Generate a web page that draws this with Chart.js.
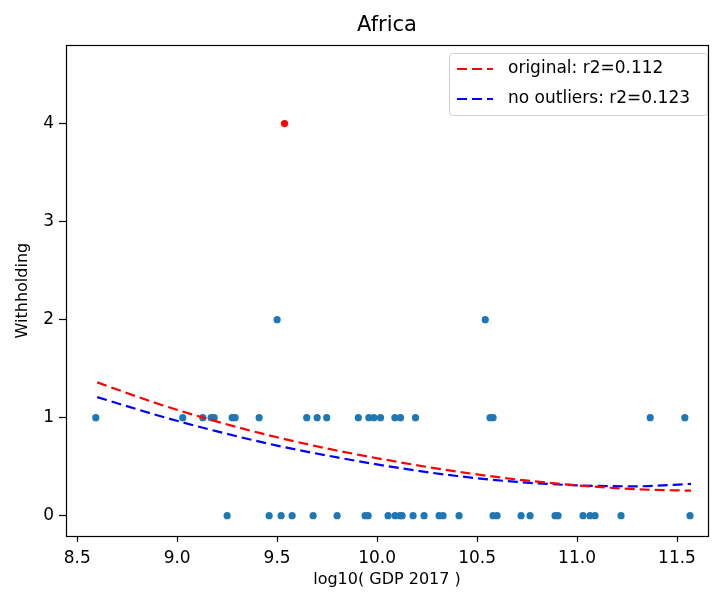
<!DOCTYPE html>
<html>
<head>
<meta charset="utf-8">
<script src="https://cdn.jsdelivr.net/npm/chart.js@4.4.0/dist/chart.umd.min.js"></script>
<style>
  html, body { margin: 0; padding: 0; background: #fff; }
</style>
</head>
<body>
<canvas id="myChart" width="712" height="592"></canvas>
<script>
const chartTitle = 'Africa';
const xLabel = 'log10( GDP 2017 )';
const yLabel = 'Withholding';
const xTicks = [8.5, 9.0, 9.5, 10.0, 10.5, 11.0, 11.5];
const yTicks = [0, 1, 2, 3, 4];

// log10 GDP of each country, grouped by withholding value
const gdpWith0 = [9.25, 9.46, 9.52, 9.575, 9.68, 9.80, 9.94, 9.955, 10.055, 10.09, 10.115, 10.125,
                  10.18, 10.235, 10.31, 10.33, 10.41, 10.58, 10.60, 10.72, 10.765, 10.89, 10.905,
                  11.03, 11.065, 11.09, 11.22, 11.565];
const gdpWith1 = [8.593, 9.028, 9.128, 9.17, 9.185, 9.275, 9.29, 9.41, 9.648, 9.70, 9.748, 9.906,
                  9.959, 9.984, 10.017, 10.089, 10.117, 10.192, 10.565, 10.58, 11.366, 11.539];
const gdpWith2 = [9.50, 10.541];
const outlierGdp = [9.537];
const outlierVal = [4];

// fitted curves
const fitX =           [8.6,  8.9,   9.2,  9.5,   9.8,   10.1, 10.4,  10.7,  11.0, 11.3, 11.57];
const fitOriginal =    [1.36, 1.145, 0.96, 0.80,  0.665, 0.55, 0.45,  0.37,  0.31, 0.27, 0.255];
const fitNoOutliers =  [1.21, 1.025, 0.86, 0.715, 0.595, 0.49, 0.405, 0.345, 0.31, 0.30, 0.325];
const legendLabels = ['original: r2=0.112', 'no outliers: r2=0.123'];
const legendColors = ['#ff0000', '#0000ff'];

const FONT = 'DejaVu Sans';

function pts(xs, y) {
  return xs.map(x => ({ x: x, y: y }));
}
function zipPts(xs, ys) {
  return xs.map((x, i) => ({ x: x, y: ys[i] }));
}

// draws the box around the plot and the legend in the upper right corner
const frameAndLegend = {
  id: 'frameAndLegend',
  afterDraw(chart) {
    const { ctx, chartArea: a } = chart;
    ctx.save();
    ctx.strokeStyle = '#000';
    ctx.lineWidth = 1.2;
    ctx.strokeRect(Math.round(a.left) + 0.5, Math.round(a.top) + 0.5,
                   Math.round(a.right - a.left), Math.round(a.bottom - a.top));

    // legend
    const bx = 449, by = 53, bw = 258, bh = 62;
    ctx.fillStyle = 'rgba(255,255,255,0.8)';
    ctx.strokeStyle = '#d0d0d0';
    ctx.lineWidth = 1;
    ctx.beginPath();
    ctx.roundRect(bx + 0.5, by + 0.5, bw, bh, 3);
    ctx.fill();
    ctx.stroke();
    ctx.font = '17px "' + FONT + '"';
    ctx.textBaseline = 'middle';
    ctx.textAlign = 'left';
    legendLabels.forEach((lab, i) => {
      const y = by + 16 + i * 30;
      ctx.strokeStyle = legendColors[i];
      ctx.lineWidth = 2.2;
      ctx.setLineDash([10, 5]);
      ctx.beginPath();
      ctx.moveTo(bx + 8, y);
      ctx.lineTo(bx + 44, y);
      ctx.stroke();
      ctx.setLineDash([]);
      ctx.fillStyle = '#000';
      ctx.fillText(lab, bx + 59, y);
    });
    ctx.restore();
  }
};

const ctx = document.getElementById('myChart');
const myChart = new Chart(ctx, {
  type: 'scatter',
  data: {
    datasets: [
      {
        label: legendLabels[0],
        data: zipPts(fitX, fitOriginal),
        showLine: true,
        borderColor: '#ff0000',
        borderWidth: 2.2,
        borderDash: [10, 5],
        pointRadius: 0,
        cubicInterpolationMode: 'monotone',
        order: 1
      },
      {
        label: legendLabels[1],
        data: zipPts(fitX, fitNoOutliers),
        showLine: true,
        borderColor: '#0000ff',
        borderWidth: 2.2,
        borderDash: [10, 5],
        pointRadius: 0,
        cubicInterpolationMode: 'monotone',
        order: 2
      },
      {
        label: 'outlier',
        data: zipPts(outlierGdp, outlierVal),
        backgroundColor: '#ff0000',
        pointRadius: 3.6,
        borderWidth: 0,
        order: 3
      },
      {
        label: 'countries',
        data: pts(gdpWith0, 0).concat(pts(gdpWith1, 1), pts(gdpWith2, 2)),
        backgroundColor: '#1f77b4',
        pointRadius: 3.6,
        borderWidth: 0,
        order: 4
      }
    ]
  },
  options: {
    responsive: false,
    animation: false,
    devicePixelRatio: 1,
    layout: { padding: { right: 1, top: 0, left: 0, bottom: 0 } },
    plugins: {
      legend: { display: false },
      tooltip: { enabled: false },
      title: {
        display: true,
        fullSize: false,
        text: chartTitle,
        color: '#000',
        font: { family: FONT, size: 21, weight: 'normal' },
        padding: { top: 13, bottom: 7 }
      }
    },
    scales: {
      x: {
        type: 'linear',
        min: 8.444,
        max: 11.655,
        afterFit: (s) => { s.height = 56; },
        afterBuildTicks: (s) => { s.ticks = xTicks.map(v => ({ value: v })); },
        border: { display: false },
        grid: { drawOnChartArea: false, drawTicks: true, tickLength: 6, color: '#000', tickWidth: 1.2 },
        ticks: {
          autoSkip: false,
          maxRotation: 0,
          padding: 6,
          color: '#000',
          font: { family: FONT, size: 17 },
          callback: (v) => Number(v).toFixed(1)
        },
        title: {
          display: true,
          text: xLabel,
          color: '#000',
          font: { family: FONT, size: 16 },
          padding: { top: 0, bottom: 3 }
        }
      },
      y: {
        type: 'linear',
        min: -0.207,
        max: 4.8,
        afterFit: (s) => { s.width = 66; },
        afterBuildTicks: (s) => { s.ticks = yTicks.map(v => ({ value: v })); },
        border: { display: false },
        grid: { drawOnChartArea: false, drawTicks: true, tickLength: 7, color: '#000', tickWidth: 1.2 },
        ticks: {
          autoSkip: false,
          padding: 5,
          color: '#000',
          font: { family: FONT, size: 17 },
          callback: (v) => String(v)
        },
        title: {
          display: true,
          text: yLabel,
          color: '#000',
          font: { family: FONT, size: 16 },
          padding: { top: 13, bottom: 0 }
        }
      }
    }
  },
  plugins: [frameAndLegend]
});
</script>
</body>
</html>
